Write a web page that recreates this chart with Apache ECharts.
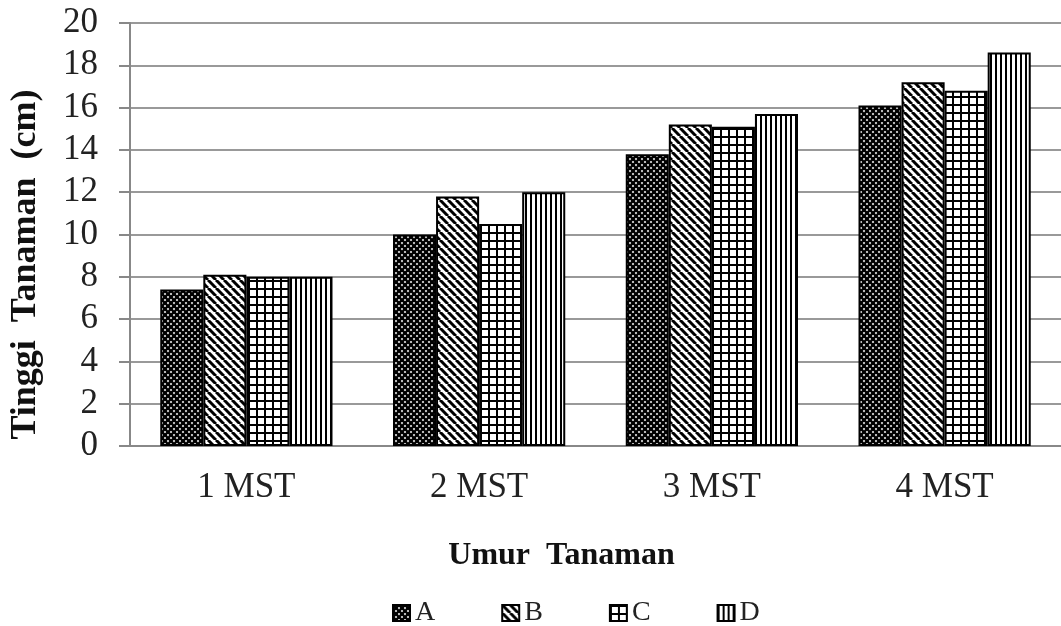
<!DOCTYPE html>
<html>
<head>
<meta charset="utf-8">
<script src="https://cdn.jsdelivr.net/npm/echarts@6/dist/echarts.min.js"></script>
<style>
html,body{margin:0;padding:0;background:#fff;}
#chart{width:1061px;height:626px;}
</style>
</head>
<body>
<div id="chart"></div>
<script>
const categories = ['1 MST', '2 MST', '3 MST', '4 MST'];
const seriesNames = ['A', 'B', 'C', 'D'];
const valuesA = [7.4, 10.0, 13.8, 16.1];
const valuesB = [8.1, 11.8, 15.2, 17.2];
const valuesC = [8.0, 10.5, 15.1, 16.8];
const valuesD = [8.0, 12.0, 15.7, 18.6];
const yTicks = [0, 2, 4, 6, 8, 10, 12, 14, 16, 18, 20];

function makeCanvas(w, h, draw) {
  const c = document.createElement('canvas');
  c.width = w; c.height = h;
  const ctx = c.getContext('2d');
  ctx.fillStyle = '#fff';
  ctx.fillRect(0, 0, w, h);
  draw(ctx, w, h);
  return c;
}
// A: dense cross-hatch (diamond lattice)
const patA = makeCanvas(6, 6, (ctx, w, h) => {
  ctx.strokeStyle = '#000';
  ctx.lineWidth = 2.5;
  for (let k = -1; k <= 1; k++) {
    ctx.beginPath(); ctx.moveTo(k * w, 0); ctx.lineTo(k * w + w, h); ctx.stroke();
    ctx.beginPath(); ctx.moveTo(k * w + w, 0); ctx.lineTo(k * w, h); ctx.stroke();
  }
});
// B: diagonal "\" stripes
const patB = makeCanvas(8, 8, (ctx, w, h) => {
  ctx.strokeStyle = '#000';
  ctx.lineWidth = 3;
  for (let k = -1; k <= 1; k++) {
    ctx.beginPath(); ctx.moveTo(k * w, 0); ctx.lineTo(k * w + w, h); ctx.stroke();
  }
});
// C: square grid
const patC = makeCanvas(8, 8, (ctx, w, h) => {
  ctx.fillStyle = '#000';
  ctx.fillRect(0, 0, 2, h);
  ctx.fillRect(0, 0, w, 2);
});
// D: vertical stripes
const patD = makeCanvas(5, 5, (ctx, w, h) => {
  ctx.fillStyle = '#000';
  ctx.fillRect(0, 0, 2, h);
});
const patterns = [patA, patB, patC, patD];
const allValues = [valuesA, valuesB, valuesC, valuesD];

const serif = '"Liberation Serif", "Times New Roman", serif';

const chart = echarts.init(document.getElementById('chart'), null, {renderer: 'canvas'});
chart.setOption({
  backgroundColor: '#fff',
  animation: false,
  grid: {left: 124, right: -6, top: 23, bottom: 180},
  legend: {
    data: seriesNames,
    top: 594,
    left: 387,
    itemWidth: 17,
    itemHeight: 16,
    itemGap: 66,
    icon: 'rect',
    textStyle: {fontFamily: serif, fontSize: 28, color: '#222'}
  },
  xAxis: {
    type: 'category',
    data: categories,
    name: 'Umur  Tanaman',
    nameLocation: 'middle',
    nameGap: 94,
    nameTextStyle: {fontFamily: serif, fontSize: 32, fontWeight: 'bold', color: '#111', padding: [0, 68, 0, 0]},
    axisLine: {show: true, lineStyle: {color: '#888', width: 2}},
    axisTick: {show: false},
    axisLabel: {fontFamily: serif, fontSize: 35, color: '#222', margin: 24}
  },
  yAxis: {
    type: 'value',
    min: 0, max: 20, interval: 2,
    name: 'Tinggi  Tanaman  (cm)',
    nameLocation: 'middle',
    nameGap: 86,
    nameTextStyle: {fontFamily: serif, fontSize: 36, fontWeight: 'bold', color: '#111', padding: [0, 60, 0, 0]},
    axisLine: {show: true, lineStyle: {color: '#888', width: 2}},
    axisTick: {show: true, inside: false, length: 11, lineStyle: {color: '#888', width: 2}},
    splitLine: {show: true, lineStyle: {color: '#999', width: 2}},
    axisLabel: {fontFamily: serif, fontSize: 35, color: '#222', margin: 32,
      formatter: v => yTicks.includes(v) ? String(v) : ''}
  },
  series: seriesNames.map((n, i) => ({
    name: n,
    type: 'bar',
    data: allValues[i],
    barGap: '0%',
    barCategoryGap: '26%',
    itemStyle: {
      color: {image: patterns[i], repeat: 'repeat'},
      borderColor: '#000',
      borderWidth: 2
    }
  }))
});
</script>
</body>
</html>
